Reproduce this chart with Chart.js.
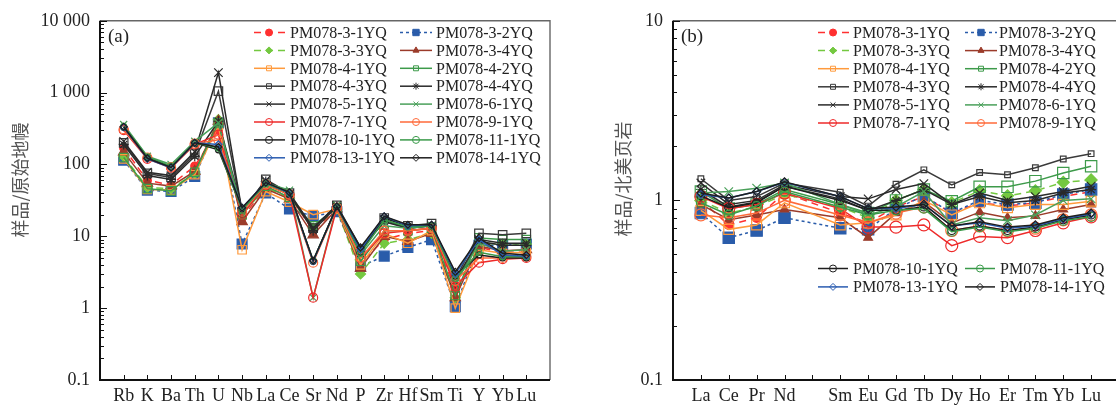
<!DOCTYPE html>
<html>
<head>
<meta charset="utf-8">
<script src="https://cdn.jsdelivr.net/npm/chart.js@4.4.1/dist/chart.umd.min.js"></script>
<style>
  html, body { margin:0; padding:0; background:#fff; width:1116px; height:407px; overflow:hidden; position:relative; }
  #wa { position:absolute; left:0; top:0; }
  #wb { position:absolute; left:560px; top:0; }
</style>
</head>
<body>
<div id="wa"><canvas id="ca" width="570" height="407"></canvas></div>
<div id="wb"><canvas id="cb" width="580" height="407"></canvas></div>
<script>
// ── categories & ticks ─────────────────────────────
const catsA = ['Rb','K','Ba','Th','U','Nb','La','Ce','Sr','Nd','P','Zr','Hf','Sm','Ti','Y','Yb','Lu'];
const catsB = ['La','Ce','Pr','Nd','','Sm','Eu','Gd','Tb','Dy','Ho','Er','Tm','Yb','Lu'];
const yTickValsA = [0.1, 1, 10, 100, 1000, 10000];
const yTickTextA = ['0.1', '1', '10', '100', '1 000', '10 000'];
const yTickValsB = [0.1, 1, 10];
const yTickTextB = ['0.1', '1', '10'];

const sampleNames = ['PM078-3-1YQ','PM078-3-2YQ','PM078-3-3YQ','PM078-3-4YQ','PM078-4-1YQ','PM078-4-2YQ',
  'PM078-4-3YQ','PM078-4-4YQ','PM078-5-1YQ','PM078-6-1YQ','PM078-7-1YQ','PM078-9-1YQ',
  'PM078-10-1YQ','PM078-11-1YQ','PM078-13-1YQ','PM078-14-1YQ'];

// ── (a) primitive-mantle normalised spider values ──
const spd_3_1  = [170, 60, 52, 95, 300, 18, 48, 36, 12, 24, 4.2, 9, 11, 12, 1.8, 7, 6, 6];
const spd_3_2  = [115, 44, 42, 68, 380, 7.8, 40, 24, 19, 22, 3.8, 5.3, 7, 9, 1.05, 7.5, 7.5, 7.8];
const spd_3_3  = [130, 48, 46, 75, 420, 20, 48, 34, 13, 24, 3.0, 8, 9, 11, 1.4, 8, 7.8, 7.8];
const spd_3_4  = [150, 55, 50, 80, 400, 16, 46, 33, 10.5, 24, 3.6, 10, 8.5, 11, 1.4, 7.3, 6.3, 6.5];
const spd_4_1  = [120, 45, 44, 72, 350, 6.5, 42, 30, 20, 24, 4.0, 11, 8, 12, 1.0, 6.5, 5.8, 6.0];
const spd_4_2  = [125, 46, 43, 78, 380, 20, 50, 35, 14, 25, 4.5, 12, 12, 13, 1.5, 9.5, 9, 9];
const spd_4_3  = [200, 75, 66, 140, 1050, 22, 62, 40, 13, 27, 6, 18, 14, 15, 2.5, 11, 10.5, 11];
const spd_4_4  = [190, 70, 62, 130, 400, 24, 58, 38, 12, 26, 6.5, 16, 13, 14, 2.2, 8.5, 7.5, 7.5];
const spd_5_1  = [210, 78, 70, 150, 1900, 22, 60, 39, 13, 27, 7, 17, 13, 14, 2.4, 9, 8, 8];
const spd_6_1  = [360, 130, 100, 210, 380, 22, 55, 44, 1.4, 27, 5.5, 14, 13, 14, 2.2, 8, 6.2, 6.5];
const spd_7_1  = [300, 120, 90, 190, 260, 20, 52, 38, 1.4, 25, 5, 11, 12, 13, 2.0, 4.3, 4.8, 5.0];
const spd_9_1  = [310, 125, 92, 195, 220, 22, 53, 38, 4.3, 25, 5, 12, 12, 13, 2.4, 5, 5, 5.2];
const spd_10_1 = [330, 125, 92, 200, 160, 24, 55, 40, 4.5, 26, 6, 18, 14, 14, 2.8, 5.5, 5, 5];
const spd_11_1 = [340, 128, 95, 200, 170, 23, 54, 40, 4.6, 26, 5.8, 17, 13.5, 14, 2.6, 6, 5.2, 5.2];
const spd_13_1 = [330, 120, 90, 200, 190, 25, 56, 40, 4.5, 26, 6.5, 19, 14, 14.5, 3.0, 9, 5.5, 5.3];
const spd_14_1 = [335, 122, 91, 200, 175, 25, 56, 41, 4.6, 26, 7, 19, 14.5, 14.5, 3.2, 9.5, 5.8, 5.5];

// ── (b) NASC normalised REE values (Pm = null) ─────
const ree_3_1  = [1.0, 0.73, 0.8, 1.1, null, 0.85, 0.75, 0.92, 1.05, 0.85, 0.97, 0.93, 0.97, 1.05, 1.12];
const ree_3_2  = [0.85, 0.62, 0.68, 0.80, null, 0.70, 0.69, 0.9, 1.06, 0.85, 1.0, 0.95, 0.97, 1.08, 1.15];
const ree_3_3  = [1.0, 0.85, 0.92, 1.08, null, 0.92, 0.8, 1.0, 1.15, 0.97, 1.13, 1.06, 1.13, 1.26, 1.3];
const ree_3_4  = [0.95, 0.78, 0.83, 0.89, null, 0.80, 0.62, 0.85, 0.98, 0.75, 0.86, 0.80, 0.82, 0.89, 0.95];
const ree_4_1  = [0.88, 0.69, 0.73, 0.97, null, 0.73, 0.75, 0.83, 1.0, 0.83, 0.97, 0.91, 0.95, 0.95, 0.99];
const ree_4_2  = [1.12, 0.9, 0.95, 1.15, null, 0.95, 0.85, 1.0, 1.15, 0.99, 1.19, 1.19, 1.28, 1.42, 1.55];
const ree_4_3  = [1.32, 1.0, 1.05, 1.25, null, 1.11, 0.93, 1.23, 1.48, 1.22, 1.43, 1.39, 1.52, 1.70, 1.82];
const ree_4_4  = [1.15, 0.92, 0.98, 1.2, null, 1.02, 0.88, 1.0, 1.15, 0.95, 1.05, 0.97, 1.0, 1.1, 1.15];
const ree_5_1  = [1.25, 0.95, 1.0, 1.22, null, 1.05, 1.02, 1.15, 1.24, 0.95, 1.1, 1.0, 1.05, 1.12, 1.2];
const ree_6_1  = [1.1, 1.12, 1.17, 1.25, null, 0.95, 0.83, 0.92, 1.12, 0.73, 0.80, 0.77, 0.83, 1.0, 1.02];
const ree_7_1  = [1.05, 0.9, 0.95, 1.1, null, 0.9, 0.71, 0.71, 0.73, 0.56, 0.63, 0.62, 0.68, 0.75, 0.81];
const ree_9_1  = [0.83, 0.8, 0.85, 1.0, null, 0.83, 0.75, 0.85, 0.92, 0.68, 0.72, 0.68, 0.70, 0.78, 0.83];
const ree_10_1 = [1.06, 0.91, 0.97, 1.2, null, 1.0, 0.88, 0.88, 0.92, 0.68, 0.72, 0.68, 0.71, 0.78, 0.83];
const ree_11_1 = [0.97, 0.83, 0.93, 1.12, null, 0.92, 0.83, 0.88, 0.90, 0.67, 0.71, 0.67, 0.70, 0.77, 0.81];
const ree_13_1 = [1.08, 1.03, 1.12, 1.26, null, 1.05, 0.9, 0.9, 0.95, 0.72, 0.75, 0.7, 0.72, 0.79, 0.84];
const ree_14_1 = [1.1, 1.03, 1.12, 1.27, null, 1.05, 0.9, 0.92, 0.95, 0.72, 0.76, 0.71, 0.73, 0.80, 0.85];

const spiderRows = [spd_3_1, spd_3_2, spd_3_3, spd_3_4, spd_4_1, spd_4_2, spd_4_3, spd_4_4,
  spd_5_1, spd_6_1, spd_7_1, spd_9_1, spd_10_1, spd_11_1, spd_13_1, spd_14_1];
const reeRows = [ree_3_1, ree_3_2, ree_3_3, ree_3_4, ree_4_1, ree_4_2, ree_4_3, ree_4_4,
  ree_5_1, ree_6_1, ree_7_1, ree_9_1, ree_10_1, ree_11_1, ree_13_1, ree_14_1];

// marker / line looks per sample (rA, rB = marker radius in each panel)
const looks = [
  {c:'#ff3030', dash:[7,5], shape:'circle',   fill:true,  rA:4,   rB:4.5},
  {c:'#2a5caa', dash:[3,3], shape:'rect',     fill:true,  rA:7,   rB:8},
  {c:'#74c840', dash:[7,5], shape:'rectRot',  fill:true,  rA:5,   rB:6},
  {c:'#9b3b2a', dash:[],    shape:'triangle', fill:true,  rA:6,   rB:5},
  {c:'#ff9a3c', dash:[],    shape:'rect',     fill:false, rA:6,   rB:7},
  {c:'#3d9a4a', dash:[],    shape:'rect',     fill:false, rA:6,   rB:8},
  {c:'#3a3a3a', dash:[],    shape:'rect',     fill:false, rA:6,   rB:4},
  {c:'#2a2a2a', dash:[],    shape:'star',     fill:false, rA:5,   rB:5},
  {c:'#2a2a2a', dash:[],    shape:'crossRot', fill:false, rA:6,   rB:6},
  {c:'#4aa05a', dash:[],    shape:'crossRot', fill:false, rA:5,   rB:6},
  {c:'#ee2a2a', dash:[],    shape:'circle',   fill:false, rA:4.5, rB:6},
  {c:'#ff6a3a', dash:[],    shape:'circle',   fill:false, rA:4.5, rB:6},
  {c:'#1e1e1e', dash:[],    shape:'circle',   fill:false, rA:3,   rB:4},
  {c:'#3a9a4a', dash:[],    shape:'circle',   fill:false, rA:3,   rB:4.5},
  {c:'#2a5cb0', dash:[],    shape:'rectRot',  fill:false, rA:3.5, rB:4},
  {c:'#1e1e1e', dash:[],    shape:'rectRot',  fill:false, rA:3.5, rB:4}
];

const SERIF = '"Liberation Serif", "Times New Roman", serif';
const CJK = '"Noto Sans CJK SC", sans-serif';

function buildSets(rows, key) {
  return rows.map((vals, i) => {
    const lk = looks[i];
    return {
      label: sampleNames[i],
      data: vals.map((v, j) => ({x: j, y: v})),
      order: rows.length - i,          // later samples drawn on top
      borderColor: lk.c,
      borderWidth: 1.5,
      borderDash: lk.dash,
      pointStyle: lk.shape,
      pointRadius: lk[key],
      pointBorderWidth: 1.2,
      pointBorderColor: lk.c,
      pointBackgroundColor: lk.fill ? lk.c : 'rgba(255,255,255,0)',
      spanGaps: true,
      tension: 0
    };
  });
}

function legendItem(ctx, i, x0, x1, xm, tx, y) {
  const lk = looks[i];
  ctx.save();
  ctx.strokeStyle = lk.c; ctx.lineWidth = 1.5; ctx.setLineDash(lk.dash);
  ctx.beginPath(); ctx.moveTo(x0, y); ctx.lineTo(x1, y); ctx.stroke();
  ctx.setLineDash([]);
  ctx.fillStyle = lk.fill ? lk.c : 'rgba(255,255,255,0)';
  ctx.strokeStyle = lk.c; ctx.lineWidth = 1;
  Chart.helpers.drawPoint(ctx, {pointStyle: lk.shape, radius: i === 1 ? 4.5 : 3.5, borderWidth: 1, rotation: 0}, xm, y);
  ctx.fillStyle = '#222'; ctx.font = '16px ' + SERIF;
  ctx.textAlign = 'left'; ctx.textBaseline = 'middle';
  ctx.fillText(sampleNames[i], tx, y + 1);
  ctx.restore();
}

function decor(o) {
  return {
    id: 'decor',
    afterDraw(chart) {
      const {ctx, chartArea: ca, scales: {x, y}} = chart;
      ctx.save();
      // frame
      ctx.strokeStyle = '#666'; ctx.lineWidth = 1.4;
      ctx.beginPath(); ctx.moveTo(ca.left, ca.top); ctx.lineTo(ca.right, ca.top); ctx.lineTo(ca.right, ca.bottom); ctx.stroke();
      ctx.strokeStyle = '#111'; ctx.lineWidth = 2;
      ctx.beginPath(); ctx.moveTo(ca.left, ca.top); ctx.lineTo(ca.left, ca.bottom); ctx.lineTo(ca.right, ca.bottom); ctx.stroke();
      // y ticks pointing inward, major + minor
      ctx.lineWidth = 1;
      const e0 = Math.round(Math.log10(y.min)), e1 = Math.round(Math.log10(y.max));
      for (let e = e0; e <= e1; e++) {
        for (let m = 1; m <= 9; m++) {
          if (e === e1 && m > 1) break;
          const py = Math.round(y.getPixelForValue(m * Math.pow(10, e))) + 0.5;
          const len = m === 1 ? 7 : 4;
          ctx.beginPath(); ctx.moveTo(ca.left, py); ctx.lineTo(ca.left + len, py); ctx.stroke();
        }
      }
      // x ticks pointing up
      o.cats.forEach((c, i) => {
        const px = Math.round(x.getPixelForValue(i)) + 0.5;
        ctx.beginPath(); ctx.moveTo(px, ca.bottom); ctx.lineTo(px, ca.bottom - 5); ctx.stroke();
      });
      // panel tag
      ctx.fillStyle = '#222'; ctx.font = '19px ' + SERIF;
      ctx.textAlign = 'left'; ctx.textBaseline = 'middle';
      ctx.fillText(o.tag, ca.left + 8, 37);
      // y title
      ctx.save();
      ctx.translate(o.titleX, o.titleY); ctx.rotate(-Math.PI / 2);
      ctx.fillStyle = '#555'; ctx.font = '18px ' + CJK;
      ctx.textAlign = 'center'; ctx.textBaseline = 'middle';
      ctx.fillText(o.title, 0, 0);
      ctx.restore();
      // legend
      o.legend.forEach(L => {
        L.items.forEach((idx, k) => {
          const col = k % 2, row = Math.floor(k / 2);
          const cx = L.cols[col];
          legendItem(ctx, idx, cx.x0, cx.x1, cx.xm, cx.tx, L.y0 + row * L.dy);
        });
      });
      ctx.restore();
    }
  };
}

function makeChart(id, rows, key, cats, yVals, yText, yMin, yMax, axisW, padR, deco) {
  new Chart(document.getElementById(id), {
    type: 'line',
    data: {datasets: buildSets(rows, key)},
    options: {
      responsive: false,
      animation: false,
      layout: {padding: {top: 17, right: padR, left: 0, bottom: 0}},
      plugins: {legend: {display: false}, tooltip: {enabled: false}},
      scales: {
        x: {
          type: 'linear', min: -1, max: cats.length,
          grid: {display: false, drawTicks: false}, border: {display: false},
          afterBuildTicks: s => { s.ticks = cats.map((_, i) => ({value: i})); },
          afterFit: s => { s.height = 27; },
          ticks: {autoSkip: false, maxRotation: 0, padding: 5, color: '#222',
            font: {family: SERIF, size: 18}, callback: (v, i) => cats[i]}
        },
        y: {
          type: 'logarithmic', min: yMin, max: yMax,
          grid: {display: false, drawTicks: false}, border: {display: false},
          afterBuildTicks: s => { s.ticks = yVals.map(v => ({value: v})); },
          afterFit: s => { s.width = axisW; },
          ticks: {padding: 10, color: '#222', font: {family: SERIF, size: 18},
            callback: (v, i) => yText[i]}
        }
      }
    },
    plugins: [decor(deco)]
  });
}

makeChart('ca', spiderRows, 'rA', catsA, yTickValsA, yTickTextA, 0.1, 10000, 100, 20, {
  cats: catsA, tag: '(a)', title: '样品/原始地幔', titleX: 20, titleY: 180,
  legend: [{
    items: [0,1,2,3,4,5,6,7,8,9,10,11,12,13,14,15], y0: 32.5, dy: 17.9,
    cols: [{x0: 254, x1: 285, xm: 269, tx: 290}, {x0: 400, x1: 432, xm: 416, tx: 436}]
  }]
});

makeChart('cb', reeRows, 'rB', catsB, yTickValsB, yTickTextB, 0.1, 10, 113, 21, {
  cats: catsB, tag: '(b)', title: '样品/北美页岩', titleX: 63, titleY: 179,
  legend: [{
    items: [0,1,2,3,4,5,6,7,8,9,10,11], y0: 32.5, dy: 18.1,
    cols: [{x0: 258, x1: 289, xm: 273, tx: 293}, {x0: 405, x1: 437, xm: 421, tx: 439}]
  }, {
    items: [12,13,14,15], y0: 268.5, dy: 18.4,
    cols: [{x0: 258, x1: 288, xm: 273, tx: 293}, {x0: 405, x1: 435, xm: 420, tx: 440}]
  }]
});
</script>
</body>
</html>
